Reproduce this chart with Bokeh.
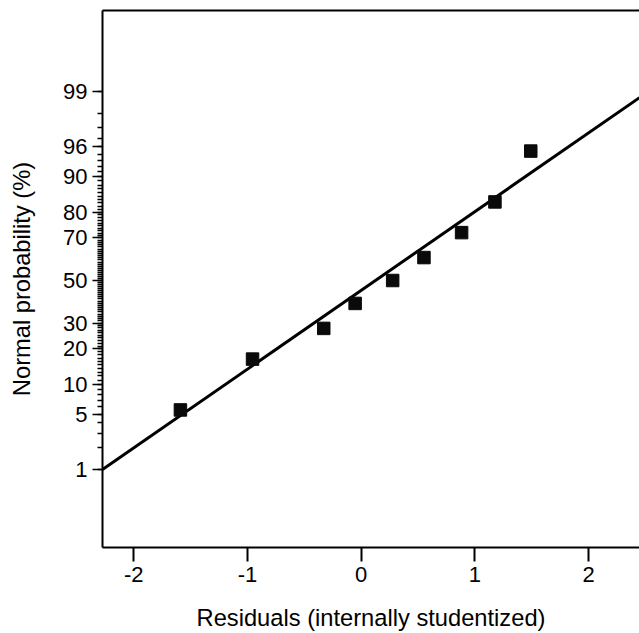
from statistics import NormalDist
from bokeh.plotting import figure
from bokeh.models import Range1d, FixedTicker, LinearAxis, CustomJSTickFormatter, ColumnDataSource
from bokeh.embed import file_html
from bokeh.resources import INLINE

# ---- data ----
residuals = [-1.589, -0.955, -0.329, -0.053, 0.277, 0.552, 0.883, 1.176, 1.491]
probability_pct = [5.56, 16.67, 27.78, 38.89, 50.0, 61.11, 72.22, 83.33, 94.44]
fit_x = [-2.274, 2.447]
fit_pct = [1.0, 98.78]
y_tick_pct = [1, 5, 10, 20, 30, 50, 70, 80, 90, 95, 99]
y_tick_labels = ["1", "5", "10", "20", "30", "50", "70", "80", "90", "96", "99"]
y_minor_pct = list(range(1, 100))
x_ticks = [-2, -1, 0, 1, 2]
x_label = "Residuals (internally studentized)"
y_label = "Normal probability (%)"

nd = NormalDist()
def z(p):
    return nd.inv_cdf(p / 100.0)

FONT = "Liberation Sans"

p = figure(width=639, height=633, output_backend="svg", toolbar_location=None,
           x_range=Range1d(-2.274, 2.447), y_range=Range1d(-3.286, 3.323),
           min_border_left=102, min_border_right=0, min_border_top=10, min_border_bottom=86,
           background_fill_color="white", border_fill_color="white")
p.outline_line_color = None
p.xgrid.visible = False
p.ygrid.visible = False

src = ColumnDataSource(dict(x=residuals, y=[z(v) for v in probability_pct]))
fit = ColumnDataSource(dict(x=fit_x, y=[z(v) for v in fit_pct]))

p.line("x", "y", source=fit, line_color="black", line_width=3)
p.scatter("x", "y", source=src, marker="square", size=12.5, fill_color="#0a0a0a", line_color="#0a0a0a")

# y axis (probit scale)
yt = [z(v) for v in y_tick_pct]
p.yaxis.ticker = FixedTicker(ticks=yt, minor_ticks=[z(v) for v in y_minor_pct])
p.yaxis.formatter = CustomJSTickFormatter(args=dict(tz=yt, labs=y_tick_labels), code="""
let best = 0; let d = Infinity;
for (let i = 0; i < tz.length; i++) { const e = Math.abs(tz[i] - tick); if (e < d) { d = e; best = i; } }
return labs[best];
""")
p.yaxis.axis_label = y_label
p.yaxis.major_tick_out = 10
p.yaxis.major_tick_in = 0
p.yaxis.minor_tick_out = 5
p.yaxis.minor_tick_in = 0
p.yaxis.major_tick_line_width = 1.5
p.yaxis.minor_tick_line_width = 1.5
p.yaxis.major_label_standoff = 5
p.yaxis.axis_label_standoff = 25

# x axis
p.xaxis.ticker = FixedTicker(ticks=x_ticks, minor_ticks=[])
p.xaxis.formatter = CustomJSTickFormatter(code="return tick.toFixed(0);")
p.xaxis.axis_label = x_label
p.xaxis.major_tick_out = 14
p.xaxis.major_tick_in = 0
p.xaxis.minor_tick_out = 0
p.xaxis.minor_tick_in = 0
p.xaxis.major_tick_line_width = 2
p.xaxis.major_label_standoff = 5
p.xaxis.axis_label_standoff = 20

for ax in (p.xaxis, p.yaxis):
    ax.axis_line_width = 2
    ax.axis_line_color = "black"
    ax.major_tick_line_color = "black"
    ax.minor_tick_line_color = "black"
    ax.major_label_text_font = FONT
    ax.major_label_text_font_size = "22px"
    ax.major_label_text_color = "black"
    ax.axis_label_text_font = FONT
    ax.axis_label_text_font_size = "23.7px"
    ax.axis_label_text_font_style = "normal"
    ax.axis_label_text_color = "black"

top = LinearAxis(ticker=FixedTicker(ticks=[], minor_ticks=[]), major_tick_out=0, major_tick_in=0,
                 minor_tick_out=0, minor_tick_in=0, major_label_text_font_size="0px",
                 axis_line_width=2, axis_line_color="black")
p.add_layout(top, "above")

open("out.html", "w").write(file_html(p, INLINE))
